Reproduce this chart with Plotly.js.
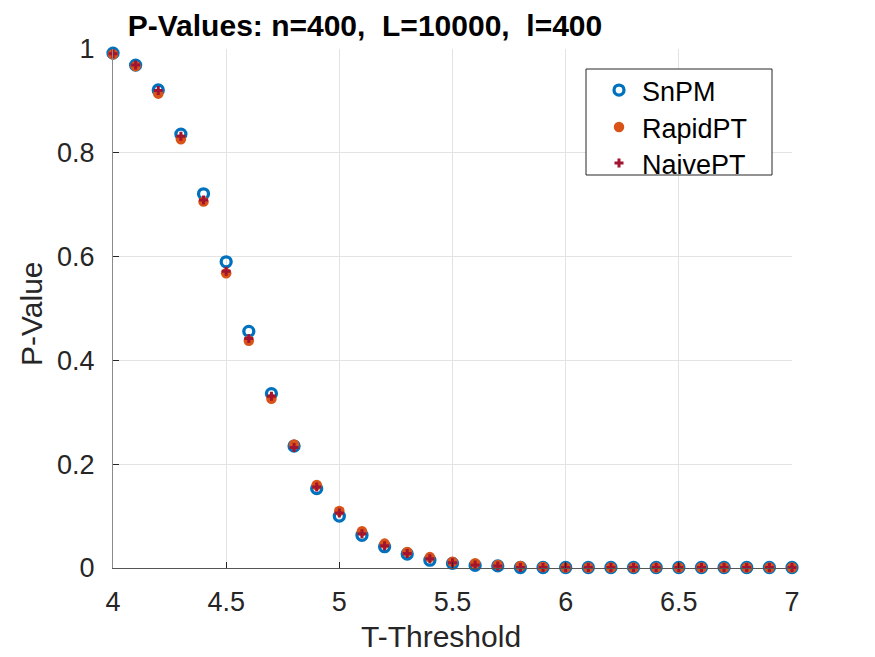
<!DOCTYPE html>
<html>
<head>
<meta charset="utf-8">
<script src="https://cdn.plot.ly/plotly-3.0.1.min.js"></script>
<style>
  html, body { margin: 0; padding: 0; background: #ffffff; }
  #chart { width: 875px; height: 657px; }
</style>
</head>
<body>
<div id="chart"></div>
<script>
// T-threshold values at which the p-values were evaluated
const thresholds = [4.0, 4.1, 4.2, 4.3, 4.4, 4.5, 4.6, 4.7, 4.8, 4.9,
                    5.0, 5.1, 5.2, 5.3, 5.4, 5.5, 5.6, 5.7, 5.8, 5.9,
                    6.0, 6.1, 6.2, 6.3, 6.4, 6.5, 6.6, 6.7, 6.8, 6.9, 7.0];

// P-values from each permutation method
const snpm = [0.992, 0.969, 0.921, 0.836, 0.721, 0.590, 0.456, 0.336, 0.235, 0.153,
              0.100, 0.063, 0.041, 0.027, 0.015, 0.009, 0.005, 0.004, 0.001, 0.001,
              0.001, 0.001, 0.001, 0.001, 0.001, 0.001, 0.001, 0.001, 0.001, 0.001, 0.001];
const rapidpt = [0.990, 0.967, 0.914, 0.826, 0.706, 0.568, 0.438, 0.326, 0.238, 0.160,
                 0.110, 0.071, 0.047, 0.031, 0.021, 0.012, 0.009, 0.006, 0.004, 0.002,
                 0.001, 0.001, 0.001, 0.001, 0.001, 0.001, 0.001, 0.001, 0.001, 0.001, 0.001];
const naivept = [0.991, 0.969, 0.920, 0.832, 0.709, 0.572, 0.442, 0.331, 0.232, 0.156,
                 0.106, 0.066, 0.043, 0.028, 0.018, 0.010, 0.006, 0.004, 0.001, 0.001,
                 0.001, 0.001, 0.001, 0.001, 0.001, 0.001, 0.001, 0.001, 0.001, 0.001, 0.001];

const seriesNames = ['SnPM', 'RapidPT', 'NaivePT'];
const xTickVals = [4, 4.5, 5, 5.5, 6, 6.5, 7];
const xTickText = ['4', '4.5', '5', '5.5', '6', '6.5', '7'];
const yTickVals = [0, 0.2, 0.4, 0.6, 0.8, 1];
const yTickText = ['0', '0.2', '0.4', '0.6', '0.8', '1'];

const titleText = 'P-Values: n=400,\u00a0 L=10000,\u00a0 l=400';
const xTitle = 'T-Threshold';
const yTitle = 'P-Value';

const FONT = '"Liberation Sans", Arial, Helvetica, sans-serif';
const INK = '#262626';

const traces = [
  {
    x: thresholds, y: snpm, name: seriesNames[0], legend: 'legend',
    type: 'scatter', mode: 'markers', cliponaxis: false,
    marker: { symbol: 'circle-open', size: 10, color: '#0072BD',
              line: { width: 3.3, color: '#0072BD' } }
  },
  {
    x: thresholds, y: rapidpt, name: seriesNames[1], legend: 'legend2',
    type: 'scatter', mode: 'markers', cliponaxis: false,
    marker: { symbol: 'circle', size: 10.5, color: '#D95319', line: { width: 0 } }
  },
  {
    x: thresholds, y: naivept, name: seriesNames[2], legend: 'legend3',
    type: 'scatter', mode: 'markers', cliponaxis: false,
    marker: { symbol: 'cross', size: 7.5, color: '#A2142F', line: { width: 0 } }
  }
];

const L = 113, R = 83, T = 49, B = 89;
const plotW = 875 - L - R, plotH = 657 - T - B;
// pixel -> paper helpers for the legend frame and the axis titles
const px = v => (v - L) / plotW;
const py = v => (657 - B - v) / plotH;

// one legend entry per row, stacked inside a shared frame
const legendRow = rowCenter => ({
  x: px(596), xanchor: 'left',
  y: py(rowCenter - 25), yanchor: 'top',
  bgcolor: 'rgba(0,0,0,0)', borderwidth: 0,
  itemwidth: 36,
  font: { family: FONT, size: 27, color: '#000000' },
  itemsizing: 'trace'
});

const layout = {
  width: 875, height: 657,
  margin: { l: L, r: R, t: T, b: B, pad: 0 },
  paper_bgcolor: '#ffffff', plot_bgcolor: '#ffffff',
  font: { family: FONT, color: INK, size: 27 },
  showlegend: true,
  title: {
    text: titleText,
    font: { family: FONT, size: 30, color: '#000000', weight: 'bold' },
    xref: 'paper', x: px(365), xanchor: 'center',
    yref: 'container', y: 1 - 25 / 657, yanchor: 'middle'
  },
  xaxis: {
    range: [4, 7], tickmode: 'array', tickvals: xTickVals, ticktext: xTickText,
    ticks: 'inside', ticklen: 6, tickwidth: 1, tickcolor: INK,
    showgrid: true, gridcolor: '#e3e3e3', gridwidth: 1,
    zeroline: false, showline: true, linecolor: '#555555', linewidth: 1,
    mirror: false, tickfont: { family: FONT, size: 27, color: INK },
    ticklabelstandoff: 10
  },
  yaxis: {
    range: [0, 1], tickmode: 'array', tickvals: yTickVals, ticktext: yTickText,
    ticks: 'inside', ticklen: 6, tickwidth: 1, tickcolor: INK,
    showgrid: true, gridcolor: '#e3e3e3', gridwidth: 1,
    zeroline: false, showline: true, linecolor: '#8a8a8a', linewidth: 1,
    mirror: false, tickfont: { family: FONT, size: 27, color: INK },
    ticklabelstandoff: 12
  },
  legend: legendRow(91),
  legend2: legendRow(128),
  legend3: legendRow(164),
  shapes: [
    {
      // legend frame
      type: 'rect', xref: 'paper', yref: 'paper', layer: 'above',
      x0: px(586), x1: px(772), y0: py(175), y1: py(69),
      fillcolor: '#ffffff', line: { color: INK, width: 1 }
    }
  ],
  annotations: [
    {
      text: xTitle, xref: 'paper', yref: 'paper', showarrow: false,
      x: px(441), xanchor: 'center',
      y: py(636), yanchor: 'middle',
      font: { family: FONT, size: 30, color: INK }
    },
    {
      text: yTitle, xref: 'paper', yref: 'paper', showarrow: false, textangle: -90,
      x: px(31), xanchor: 'center',
      y: py(314), yanchor: 'middle',
      font: { family: FONT, size: 30, color: INK }
    }
  ]
};

Plotly.newPlot('chart', traces, layout, { displayModeBar: false, staticPlot: true });
</script>
</body>
</html>
